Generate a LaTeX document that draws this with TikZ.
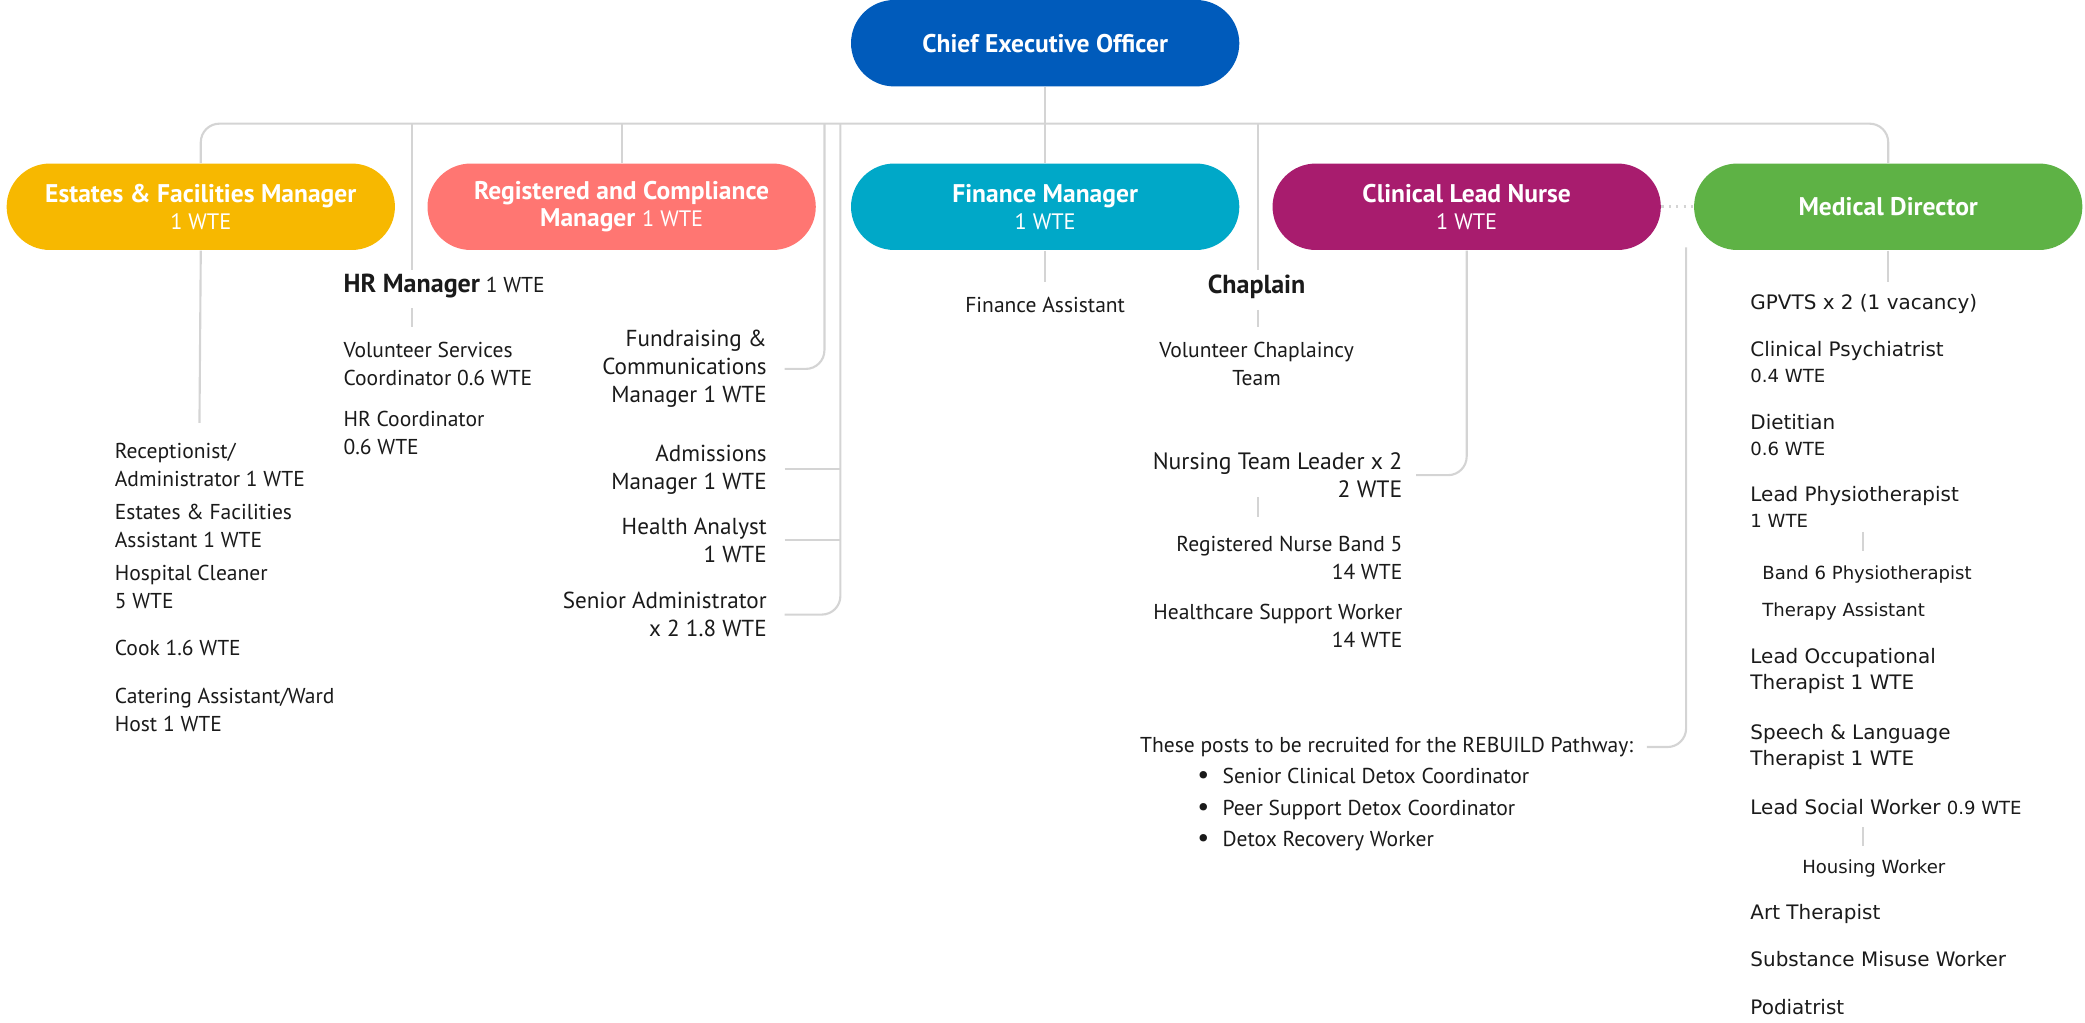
\documentclass[tikz,border=0pt]{standalone}
\usepackage{fontspec}
\setmainfont{PT Sans}
\newfontfamily\verd{DejaVu Sans}
\usetikzlibrary{shapes.misc,calc}
\definecolor{ceoblue}{HTML}{005BBB}
\definecolor{estyellow}{HTML}{F7B800}
\definecolor{regred}{HTML}{FF7672}
\definecolor{finteal}{HTML}{00A8C8}
\definecolor{clinmag}{HTML}{A81C6E}
\definecolor{medgreen}{HTML}{5EB245}
\definecolor{linegray}{HTML}{D4D4D4}
\definecolor{ink}{HTML}{1A1A1A}
\begin{document}
\begin{tikzpicture}[x=0.5pt,y=-0.5pt,
  pill/.style={rounded rectangle, minimum width=146pt, minimum height=32.5pt, text=white, align=center, inner sep=0pt, font=\fontsize{9.6}{10}\selectfont},
  conn/.style={draw=linegray, line width=0.8pt},
  rconn/.style={conn, rounded corners=7pt},
  txt/.style={inner sep=0pt, text=ink, font=\fontsize{8.1}{10.5}\selectfont},
  txtl/.style={txt, align=left, anchor=north west},
  txtr/.style={txt, align=right, anchor=north east, font=\fontsize{8.7}{10.5}\selectfont},
  txtc/.style={txt, align=center, anchor=north},
  med/.style={inner sep=0pt, text=ink, align=left, anchor=north west, font=\verd\fontsize{7.5}{10}\selectfont},
  meds/.style={med, font=\verd\fontsize{6.8}{10}\selectfont}
]
\useasboundingbox (0,0) rectangle (1568,769);

% top-level boxes
\node[pill, fill=ceoblue] (ceo) at (786,32.5) {\bfseries Chief Executive Officer};
\node[pill, fill=estyellow] (est) at (151,155.5) {\textbf{Estates \& Facilities Manager}\\{\fontsize{8.4}{9}\selectfont 1 WTE}};
\node[pill, fill=regred] (reg) at (467.5,155.5) {\textbf{Registered and Compliance}\\\textbf{Manager} {\fontsize{8.4}{9}\selectfont 1 WTE}};
\node[pill, fill=finteal] (fin) at (786,155.5) {\textbf{Finance Manager}\\{\fontsize{8.4}{9}\selectfont 1 WTE}};
\node[pill, fill=clinmag] (cln) at (1103,155.5) {\textbf{Clinical Lead Nurse}\\{\fontsize{8.4}{9}\selectfont 1 WTE}};
\node[pill, fill=medgreen] (medd) at (1420,155.5) {\textbf{Medical Director}};

% bus
\coordinate (bus) at (786,93);
\draw[rconn] (est.north) |- (bus) -| (medd.north);
\draw[conn] (ceo.south) -- (fin.north);
\draw[conn] (reg.north) -- (reg.north |- bus);
\draw[conn, dotted, line width=1pt] (cln.east) -- (medd.west);

% Estates branch
\coordinate (estend) at (150,318);
\draw[conn] (est.south) -- (estend);
\node[txtl] (rec) at (86,333) {Receptionist/\\Administrator 1 WTE};
\node[txtl] (efa) at (86,379) {Estates \& Facilities\\Assistant 1 WTE};
\node[txtl] (hcl) at (86,425) {Hospital Cleaner\\5 WTE};
\node[txtl] (cook) at (86,481) {Cook 1.6 WTE};
\node[txtl] (cat) at (86,517) {Catering Assistant/Ward\\Host 1 WTE};

% HR branch
\coordinate (hrtop) at (310,93);
\coordinate (hrend) at (310,203);
\draw[conn] (hrtop) -- (hrend);
\node[txtl] (hr) at (258,206) {{\fontsize{9.8}{10}\selectfont\bfseries HR Manager} 1 WTE};
\coordinate (hra) at (310,232);
\coordinate (hrb) at (310,246);
\draw[conn] (hra) -- (hrb);
\node[txtl] (vsc) at (258,257) {Volunteer Services\\Coordinator 0.6 WTE};
\node[txtl] (hrc) at (258,309) {HR Coordinator\\0.6 WTE};

% Registered branch
\node[txtr] (fund) at (577,248) {Fundraising \&\\Communications\\Manager 1 WTE};
\node[txtr] (adm) at (577,334) {Admissions\\Manager 1 WTE};
\node[txtr] (ha) at (577,389) {Health Analyst\\1 WTE};
\node[txtr] (sa) at (577,445) {Senior Administrator\\x 2 1.8 WTE};
\coordinate (fundtop) at (620,93);
\coordinate (admtop) at (632,93);
\draw[rconn] (fundtop) |- ([xshift=6.5pt]fund.east);
\draw[rconn] (admtop) |- ([xshift=6.5pt]sa.east);
\draw[conn] ([xshift=6.5pt]adm.east) -- (adm.east -| admtop);
\draw[conn] ([xshift=6.5pt]ha.east) -- (ha.east -| admtop);

% Finance branch
\coordinate (finend) at (786,212);
\draw[conn] (fin.south) -- (finend);
\node[txtc] (fa) at (786,223) {Finance Assistant};

% Chaplain
\coordinate (chtop) at (946,93);
\coordinate (chend) at (946,203);
\draw[conn] (chtop) -- (chend);
\node[txtc, font=\fontsize{9.8}{10}\selectfont\bfseries] (chap) at (945,206) {Chaplain};
\coordinate (cha) at (946,233);
\coordinate (chb) at (946,246);
\draw[conn] (cha) -- (chb);
\node[txtc] (vct) at (945,257) {Volunteer Chaplaincy\\Team};

% Clinical Lead Nurse branch
\node[txtr, font=\fontsize{8.9}{10.5}\selectfont] (ntl) at (1055,340) {Nursing Team Leader x 2\\2 WTE};
\draw[rconn] (cln.south) |- ([xshift=5pt]ntl.east);
\coordinate (nla) at (946,374);
\coordinate (nlb) at (946,389);
\draw[conn] (nla) -- (nlb);
\node[txtr, font=\fontsize{8.1}{10.5}\selectfont] (rn) at (1055,403) {Registered Nurse Band 5\\14 WTE};
\node[txtr, font=\fontsize{8.1}{10.5}\selectfont] (hsw) at (1055,454) {Healthcare Support Worker\\14 WTE};

% REBUILD
\node[txtl] (reb) at (857,554) {These posts to be recruited for the REBUILD Pathway:};
\node[txt, anchor=north west] (b1) at (900,577) {{\fontsize{10}{10}\selectfont\textbullet}\hspace{5pt}Senior Clinical Detox Coordinator};
\node[txt, anchor=north west] (b2) at (900,601) {{\fontsize{10}{10}\selectfont\textbullet}\hspace{5pt}Peer Support Detox Coordinator};
\node[txt, anchor=north west] (b3) at (900,625) {{\fontsize{10}{10}\selectfont\textbullet}\hspace{5pt}Detox Recovery Worker};
\coordinate (mdl) at (1268,186);
\draw[rconn] (mdl) |- ([xshift=5pt]reb.east);

% Medical Director branch
\coordinate (mdend) at (1420,212);
\draw[conn] (medd.south) -- (mdend);
\node[med] (gp) at (1316,221) {GPVTS x 2 (1 vacancy)};
\node[med] (cp) at (1316,256) {Clinical Psychiatrist\\{\fontsize{6.8}{8}\selectfont 0.4 WTE}};
\node[med] (diet) at (1316,311) {Dietitian\\{\fontsize{6.8}{8}\selectfont 0.6 WTE}};
\node[med] (lp) at (1316,365) {Lead Physiotherapist\\{\fontsize{6.8}{8}\selectfont 1 WTE}};
\coordinate (lpa) at (1401,400);
\coordinate (lpb) at (1401,414);
\draw[conn] (lpa) -- (lpb);
\node[meds] (b6) at (1325,425) {Band 6 Physiotherapist};
\node[meds] (ta) at (1325,453) {Therapy Assistant};
\node[med] (lo) at (1316,487) {Lead Occupational\\Therapist 1 WTE};
\node[med] (sl) at (1316,544) {Speech \& Language\\Therapist 1 WTE};
\node[med] (lsw) at (1316,601) {Lead Social Worker {\fontsize{6.8}{8}\selectfont 0.9 WTE}};
\coordinate (lsa) at (1401,622);
\coordinate (lsb) at (1401,636);
\draw[conn] (lsa) -- (lsb);
\node[meds] (hw) at (1355,646) {Housing Worker};
\node[med] (art) at (1316,680) {Art Therapist};
\node[med] (smw) at (1316,715) {Substance Misuse Worker};
\node[med] (pod) at (1316,751) {Podiatrist};
\end{tikzpicture}
\end{document}
